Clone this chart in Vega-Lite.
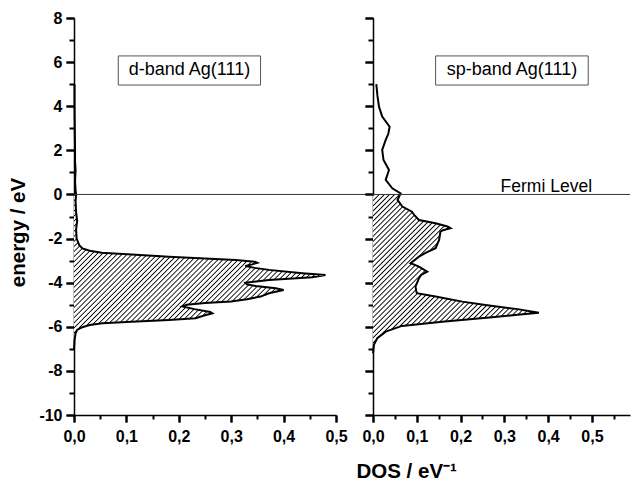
{
"$schema":"https://vega.github.io/schema/vega-lite/v6.json",
"background":"white",
"padding":{"left":8,"top":10,"right":0,"bottom":0},
"datasets":{
"dband":[
{"E":5.0,"v":0.001},{"E":4.0,"v":0.001},{"E":3.0,"v":0.0015},{"E":2.0,"v":0.002},{"E":1.5,"v":0.002},{"E":1.1,"v":0.003},{"E":0.6,"v":0.002},{"E":0.2,"v":0.003},{"E":0,"v":0.004},{"E":-0.3,"v":0.003},{"E":-0.8,"v":0.004},{"E":-1.2,"v":0.006},{"E":-1.6,"v":0.004},{"E":-2.0,"v":0.005},{"E":-2.3,"v":0.01},{"E":-2.45,"v":0.016},{"E":-2.55,"v":0.03},{"E":-2.64,"v":0.053},{"E":-2.72,"v":0.11},{"E":-2.82,"v":0.181},{"E":-2.9,"v":0.25},{"E":-2.97,"v":0.309},{"E":-3.05,"v":0.345},{"E":-3.1,"v":0.35},{"E":-3.17,"v":0.34},{"E":-3.24,"v":0.327},{"E":-3.33,"v":0.345},{"E":-3.42,"v":0.372},{"E":-3.57,"v":0.436},{"E":-3.65,"v":0.48},{"E":-3.75,"v":0.455},{"E":-3.88,"v":0.372},{"E":-4.0,"v":0.327},{"E":-4.08,"v":0.33},{"E":-4.15,"v":0.347},{"E":-4.25,"v":0.385},{"E":-4.33,"v":0.4},{"E":-4.48,"v":0.372},{"E":-4.63,"v":0.356},{"E":-4.75,"v":0.33},{"E":-4.85,"v":0.3},{"E":-4.92,"v":0.25},{"E":-5.0,"v":0.215},{"E":-5.08,"v":0.207},{"E":-5.2,"v":0.23},{"E":-5.33,"v":0.26},{"E":-5.39,"v":0.264},{"E":-5.48,"v":0.25},{"E":-5.61,"v":0.232},{"E":-5.69,"v":0.181},{"E":-5.77,"v":0.11},{"E":-5.84,"v":0.054},{"E":-5.92,"v":0.03},{"E":-6.02,"v":0.016},{"E":-6.14,"v":0.006},{"E":-6.3,"v":0.003},{"E":-6.6,"v":0.001},{"E":-7.0,"v":0}
],
"spband":[
{"E":5.0,"v":0.0076},{"E":4.5,"v":0.01},{"E":3.98,"v":0.0137},{"E":3.53,"v":0.021},{"E":3.07,"v":0.038},{"E":2.75,"v":0.035},{"E":2.47,"v":0.029},{"E":2.02,"v":0.021},{"E":1.56,"v":0.024},{"E":1.11,"v":0.0365},{"E":0.66,"v":0.029},{"E":0.28,"v":0.044},{"E":0.05,"v":0.063},{"E":0,"v":0.062},{"E":-0.25,"v":0.056},{"E":-0.55,"v":0.067},{"E":-0.78,"v":0.089},{"E":-0.93,"v":0.094},{"E":-1.16,"v":0.105},{"E":-1.31,"v":0.143},{"E":-1.45,"v":0.17},{"E":-1.53,"v":0.177},{"E":-1.62,"v":0.16},{"E":-1.69,"v":0.154},{"E":-2.06,"v":0.151},{"E":-2.44,"v":0.143},{"E":-2.65,"v":0.12},{"E":-2.82,"v":0.105},{"E":-3.12,"v":0.086},{"E":-3.27,"v":0.105},{"E":-3.5,"v":0.124},{"E":-3.65,"v":0.11},{"E":-3.8,"v":0.105},{"E":-4.18,"v":0.097},{"E":-4.48,"v":0.1},{"E":-4.63,"v":0.143},{"E":-4.86,"v":0.204},{"E":-5.01,"v":0.257},{"E":-5.2,"v":0.33},{"E":-5.36,"v":0.379},{"E":-5.45,"v":0.33},{"E":-5.57,"v":0.272},{"E":-5.77,"v":0.158},{"E":-5.96,"v":0.066},{"E":-6.22,"v":0.029},{"E":-6.52,"v":0.0098},{"E":-6.82,"v":0.002},{"E":-7.2,"v":0}
]
},
"config":{
"view":{"stroke":null},
"font":"Liberation Sans",
"axis":{"grid":false,"domainColor":"#000","domainWidth":1.5,"labelFont":"Liberation Sans","labelFontWeight":"bold","labelColor":"#000","labelFlush":false,"labelOverlap":false,"titleFont":"Liberation Sans","titleFontWeight":"bold","titleColor":"#000"}
},
"spacing":37,
"bounds":"flush",
"hconcat":[
{
"width":262,"height":397,
"resolve":{"axis":{"x":"independent","y":"independent"}},
"layer":[
{"data":{"name":"dband"},"transform":[{"filter":"datum.E <= 0"}],
"mark":{"type":"area","orient":"horizontal","stroke":null,"fill":{"gradient":"linear","x1":0,"y1":0,"x2":1.173,"y2":0.717,"stops":[
{"offset":0,"color":"#fff"},{"offset":0.003,"color":"#000"},{"offset":0.006,"color":"#fff"},
{"offset":0.0125,"color":"#fff"},{"offset":0.0155,"color":"#000"},{"offset":0.0185,"color":"#fff"},
{"offset":0.025,"color":"#fff"},{"offset":0.028,"color":"#000"},{"offset":0.031,"color":"#fff"},
{"offset":0.0375,"color":"#fff"},{"offset":0.0405,"color":"#000"},{"offset":0.0435,"color":"#fff"},
{"offset":0.05,"color":"#fff"},{"offset":0.053,"color":"#000"},{"offset":0.056,"color":"#fff"},
{"offset":0.0625,"color":"#fff"},{"offset":0.0655,"color":"#000"},{"offset":0.0685,"color":"#fff"},
{"offset":0.075,"color":"#fff"},{"offset":0.078,"color":"#000"},{"offset":0.081,"color":"#fff"},
{"offset":0.0875,"color":"#fff"},{"offset":0.0905,"color":"#000"},{"offset":0.0935,"color":"#fff"},
{"offset":0.1,"color":"#fff"},{"offset":0.103,"color":"#000"},{"offset":0.106,"color":"#fff"},
{"offset":0.1125,"color":"#fff"},{"offset":0.1155,"color":"#000"},{"offset":0.1185,"color":"#fff"},
{"offset":0.125,"color":"#fff"},{"offset":0.128,"color":"#000"},{"offset":0.131,"color":"#fff"},
{"offset":0.1375,"color":"#fff"},{"offset":0.1405,"color":"#000"},{"offset":0.1435,"color":"#fff"},
{"offset":0.15,"color":"#fff"},{"offset":0.153,"color":"#000"},{"offset":0.156,"color":"#fff"},
{"offset":0.1625,"color":"#fff"},{"offset":0.1655,"color":"#000"},{"offset":0.1685,"color":"#fff"},
{"offset":0.175,"color":"#fff"},{"offset":0.178,"color":"#000"},{"offset":0.181,"color":"#fff"},
{"offset":0.1875,"color":"#fff"},{"offset":0.1905,"color":"#000"},{"offset":0.1935,"color":"#fff"},
{"offset":0.2,"color":"#fff"},{"offset":0.203,"color":"#000"},{"offset":0.206,"color":"#fff"},
{"offset":0.2125,"color":"#fff"},{"offset":0.2155,"color":"#000"},{"offset":0.2185,"color":"#fff"},
{"offset":0.225,"color":"#fff"},{"offset":0.228,"color":"#000"},{"offset":0.231,"color":"#fff"},
{"offset":0.2375,"color":"#fff"},{"offset":0.2405,"color":"#000"},{"offset":0.2435,"color":"#fff"},
{"offset":0.25,"color":"#fff"},{"offset":0.253,"color":"#000"},{"offset":0.256,"color":"#fff"},
{"offset":0.2625,"color":"#fff"},{"offset":0.2655,"color":"#000"},{"offset":0.2685,"color":"#fff"},
{"offset":0.275,"color":"#fff"},{"offset":0.278,"color":"#000"},{"offset":0.281,"color":"#fff"},
{"offset":0.2875,"color":"#fff"},{"offset":0.2905,"color":"#000"},{"offset":0.2935,"color":"#fff"},
{"offset":0.3,"color":"#fff"},{"offset":0.303,"color":"#000"},{"offset":0.306,"color":"#fff"},
{"offset":0.3125,"color":"#fff"},{"offset":0.3155,"color":"#000"},{"offset":0.3185,"color":"#fff"},
{"offset":0.325,"color":"#fff"},{"offset":0.328,"color":"#000"},{"offset":0.331,"color":"#fff"},
{"offset":0.3375,"color":"#fff"},{"offset":0.3405,"color":"#000"},{"offset":0.3435,"color":"#fff"},
{"offset":0.35,"color":"#fff"},{"offset":0.353,"color":"#000"},{"offset":0.356,"color":"#fff"},
{"offset":0.3625,"color":"#fff"},{"offset":0.3655,"color":"#000"},{"offset":0.3685,"color":"#fff"},
{"offset":0.375,"color":"#fff"},{"offset":0.378,"color":"#000"},{"offset":0.381,"color":"#fff"},
{"offset":0.3875,"color":"#fff"},{"offset":0.3905,"color":"#000"},{"offset":0.3935,"color":"#fff"},
{"offset":0.4,"color":"#fff"},{"offset":0.403,"color":"#000"},{"offset":0.406,"color":"#fff"},
{"offset":0.4125,"color":"#fff"},{"offset":0.4155,"color":"#000"},{"offset":0.4185,"color":"#fff"},
{"offset":0.425,"color":"#fff"},{"offset":0.428,"color":"#000"},{"offset":0.431,"color":"#fff"},
{"offset":0.4375,"color":"#fff"},{"offset":0.4405,"color":"#000"},{"offset":0.4435,"color":"#fff"},
{"offset":0.45,"color":"#fff"},{"offset":0.453,"color":"#000"},{"offset":0.456,"color":"#fff"},
{"offset":0.4625,"color":"#fff"},{"offset":0.4655,"color":"#000"},{"offset":0.4685,"color":"#fff"},
{"offset":0.475,"color":"#fff"},{"offset":0.478,"color":"#000"},{"offset":0.481,"color":"#fff"},
{"offset":0.4875,"color":"#fff"},{"offset":0.4905,"color":"#000"},{"offset":0.4935,"color":"#fff"},
{"offset":0.5,"color":"#fff"},{"offset":0.503,"color":"#000"},{"offset":0.506,"color":"#fff"},
{"offset":0.5125,"color":"#fff"},{"offset":0.5155,"color":"#000"},{"offset":0.5185,"color":"#fff"},
{"offset":0.525,"color":"#fff"},{"offset":0.528,"color":"#000"},{"offset":0.531,"color":"#fff"},
{"offset":0.5375,"color":"#fff"},{"offset":0.5405,"color":"#000"},{"offset":0.5435,"color":"#fff"},
{"offset":0.55,"color":"#fff"},{"offset":0.553,"color":"#000"},{"offset":0.556,"color":"#fff"},
{"offset":0.5625,"color":"#fff"},{"offset":0.5655,"color":"#000"},{"offset":0.5685,"color":"#fff"},
{"offset":0.575,"color":"#fff"},{"offset":0.578,"color":"#000"},{"offset":0.581,"color":"#fff"},
{"offset":0.5875,"color":"#fff"},{"offset":0.5905,"color":"#000"},{"offset":0.5935,"color":"#fff"},
{"offset":0.6,"color":"#fff"},{"offset":0.603,"color":"#000"},{"offset":0.606,"color":"#fff"},
{"offset":0.6125,"color":"#fff"},{"offset":0.6155,"color":"#000"},{"offset":0.6185,"color":"#fff"},
{"offset":0.625,"color":"#fff"},{"offset":0.628,"color":"#000"},{"offset":0.631,"color":"#fff"},
{"offset":0.6375,"color":"#fff"},{"offset":0.6405,"color":"#000"},{"offset":0.6435,"color":"#fff"},
{"offset":0.65,"color":"#fff"},{"offset":0.653,"color":"#000"},{"offset":0.656,"color":"#fff"},
{"offset":0.6625,"color":"#fff"},{"offset":0.6655,"color":"#000"},{"offset":0.6685,"color":"#fff"},
{"offset":0.675,"color":"#fff"},{"offset":0.678,"color":"#000"},{"offset":0.681,"color":"#fff"},
{"offset":0.6875,"color":"#fff"},{"offset":0.6905,"color":"#000"},{"offset":0.6935,"color":"#fff"},
{"offset":0.7,"color":"#fff"},{"offset":0.703,"color":"#000"},{"offset":0.706,"color":"#fff"},
{"offset":0.7125,"color":"#fff"},{"offset":0.7155,"color":"#000"},{"offset":0.7185,"color":"#fff"},
{"offset":0.725,"color":"#fff"},{"offset":0.728,"color":"#000"},{"offset":0.731,"color":"#fff"},
{"offset":0.7375,"color":"#fff"},{"offset":0.7405,"color":"#000"},{"offset":0.7435,"color":"#fff"},
{"offset":0.75,"color":"#fff"},{"offset":0.753,"color":"#000"},{"offset":0.756,"color":"#fff"},
{"offset":0.7625,"color":"#fff"},{"offset":0.7655,"color":"#000"},{"offset":0.7685,"color":"#fff"},
{"offset":0.775,"color":"#fff"},{"offset":0.778,"color":"#000"},{"offset":0.781,"color":"#fff"},
{"offset":0.7875,"color":"#fff"},{"offset":0.7905,"color":"#000"},{"offset":0.7935,"color":"#fff"},
{"offset":0.8,"color":"#fff"},{"offset":0.803,"color":"#000"},{"offset":0.806,"color":"#fff"},
{"offset":0.8125,"color":"#fff"},{"offset":0.8155,"color":"#000"},{"offset":0.8185,"color":"#fff"},
{"offset":0.825,"color":"#fff"},{"offset":0.828,"color":"#000"},{"offset":0.831,"color":"#fff"},
{"offset":0.8375,"color":"#fff"},{"offset":0.8405,"color":"#000"},{"offset":0.8435,"color":"#fff"},
{"offset":0.85,"color":"#fff"},{"offset":0.853,"color":"#000"},{"offset":0.856,"color":"#fff"},
{"offset":0.8625,"color":"#fff"},{"offset":0.8655,"color":"#000"},{"offset":0.8685,"color":"#fff"},
{"offset":0.875,"color":"#fff"},{"offset":0.878,"color":"#000"},{"offset":0.881,"color":"#fff"},
{"offset":0.8875,"color":"#fff"},{"offset":0.8905,"color":"#000"},{"offset":0.8935,"color":"#fff"},
{"offset":0.9,"color":"#fff"},{"offset":0.903,"color":"#000"},{"offset":0.906,"color":"#fff"},
{"offset":0.9125,"color":"#fff"},{"offset":0.9155,"color":"#000"},{"offset":0.9185,"color":"#fff"},
{"offset":0.925,"color":"#fff"},{"offset":0.928,"color":"#000"},{"offset":0.931,"color":"#fff"},
{"offset":0.9375,"color":"#fff"},{"offset":0.9405,"color":"#000"},{"offset":0.9435,"color":"#fff"},
{"offset":0.95,"color":"#fff"},{"offset":0.953,"color":"#000"},{"offset":0.956,"color":"#fff"},
{"offset":0.9625,"color":"#fff"},{"offset":0.9655,"color":"#000"},{"offset":0.9685,"color":"#fff"},
{"offset":0.975,"color":"#fff"},{"offset":0.978,"color":"#000"},{"offset":0.981,"color":"#fff"},
{"offset":0.9875,"color":"#fff"},{"offset":0.9905,"color":"#000"},{"offset":0.9935,"color":"#fff"},
{"offset":1,"color":"#fff"}]}},
"encoding":{
"x":{"field":"v","type":"quantitative","stack":null,"scale":{"domain":[0,0.5],"nice":false,"zero":true},
"axis":{"orient":"bottom","title":null,"values":[0,0.1,0.2,0.3,0.4,0.5],"tickColor":"#000","tickWidth":2,"tickSize":7,"labelPadding":6,"labelFontSize":16,
"labelExpr":"replace(format(datum.value, '.1f'), '.', ',')"}},
"y":{"field":"E","type":"quantitative","scale":{"domain":[-10,8],"nice":false,"zero":false},
"axis":{"orient":"left","title":"energy / eV","titleFontSize":20.5,"titlePadding":10,"titleY":214,"values":[-10,-8,-6,-4,-2,0,2,4,6,8],"tickColor":"#000","tickWidth":2,"tickSize":8,"labelPadding":4,"labelFontSize":16,
"labelExpr":"'' + datum.value"}}
}},
{"data":{"name":"dband"},"mark":{"type":"line","stroke":"#000","strokeWidth":2},
"encoding":{
"x":{"field":"v","type":"quantitative","axis":{"orient":"bottom","title":null,"labels":false,"domain":false,"tickColor":"#000","tickWidth":2,"tickSize":4,"values":[0.05,0.15,0.25,0.35,0.45]}},
"y":{"field":"E","type":"quantitative","axis":{"orient":"left","title":null,"labels":false,"domain":false,"tickColor":"#000","tickWidth":2,"tickSize":5,"values":[-9,-7,-5,-3,-1,1,3,5,7]}},
"order":{"field":"E","type":"quantitative"}}},
{"data":{"values":[{}]},"mark":{"type":"rule","stroke":"#333","strokeWidth":1},
"encoding":{
"y":{"datum":0,"axis":{"orient":"left","title":null,"labels":false,"domain":false,"tickColor":"#000","tickWidth":2,"tickSize":8,"values":[-10,-8,-6,-4,-2,0,2,4,6,8]}},
"x":{"datum":0,"axis":{"orient":"bottom","title":null,"labels":false,"domain":false,"tickColor":"#000","tickWidth":2,"tickSize":7,"values":[0,0.1,0.2,0.3,0.4,0.5]}},
"x2":{"datum":0.5706}}},
{"data":{"values":[{}]},"mark":{"type":"rect","fill":"#fff","stroke":"#555","strokeWidth":1},
"encoding":{"x":{"datum":0.0845,"axis":null},"x2":{"datum":0.356},"y":{"datum":6.28,"axis":null},"y2":{"datum":4.96}}},
{"data":{"values":[{}]},"mark":{"type":"text","text":"d-band Ag(111)","fontSize":18,"font":"Liberation Sans","align":"center","baseline":"middle","color":"#000"},
"encoding":{"x":{"datum":0.2204,"axis":null},"y":{"datum":5.62,"axis":null}}}
]
},
{
"width":257,"height":397,
"resolve":{"axis":{"x":"independent","y":"independent"}},
"layer":[
{"data":{"name":"spband"},"transform":[{"filter":"datum.E <= 0"}],
"mark":{"type":"area","orient":"horizontal","stroke":null,"fill":{"gradient":"linear","x1":0,"y1":0,"x2":1.0217,"y2":0.9774,"stops":[
{"offset":0,"color":"#fff"},{"offset":0.004,"color":"#000"},{"offset":0.008,"color":"#fff"},
{"offset":0.0156,"color":"#fff"},{"offset":0.0196,"color":"#000"},{"offset":0.0236,"color":"#fff"},
{"offset":0.0313,"color":"#fff"},{"offset":0.0353,"color":"#000"},{"offset":0.0393,"color":"#fff"},
{"offset":0.0469,"color":"#fff"},{"offset":0.0509,"color":"#000"},{"offset":0.0549,"color":"#fff"},
{"offset":0.0625,"color":"#fff"},{"offset":0.0665,"color":"#000"},{"offset":0.0705,"color":"#fff"},
{"offset":0.0781,"color":"#fff"},{"offset":0.0821,"color":"#000"},{"offset":0.0861,"color":"#fff"},
{"offset":0.0938,"color":"#fff"},{"offset":0.0978,"color":"#000"},{"offset":0.1018,"color":"#fff"},
{"offset":0.1094,"color":"#fff"},{"offset":0.1134,"color":"#000"},{"offset":0.1174,"color":"#fff"},
{"offset":0.125,"color":"#fff"},{"offset":0.129,"color":"#000"},{"offset":0.133,"color":"#fff"},
{"offset":0.1406,"color":"#fff"},{"offset":0.1446,"color":"#000"},{"offset":0.1486,"color":"#fff"},
{"offset":0.1563,"color":"#fff"},{"offset":0.1603,"color":"#000"},{"offset":0.1643,"color":"#fff"},
{"offset":0.1719,"color":"#fff"},{"offset":0.1759,"color":"#000"},{"offset":0.1799,"color":"#fff"},
{"offset":0.1875,"color":"#fff"},{"offset":0.1915,"color":"#000"},{"offset":0.1955,"color":"#fff"},
{"offset":0.2031,"color":"#fff"},{"offset":0.2071,"color":"#000"},{"offset":0.2111,"color":"#fff"},
{"offset":0.2188,"color":"#fff"},{"offset":0.2228,"color":"#000"},{"offset":0.2268,"color":"#fff"},
{"offset":0.2344,"color":"#fff"},{"offset":0.2384,"color":"#000"},{"offset":0.2424,"color":"#fff"},
{"offset":0.25,"color":"#fff"},{"offset":0.254,"color":"#000"},{"offset":0.258,"color":"#fff"},
{"offset":0.2656,"color":"#fff"},{"offset":0.2696,"color":"#000"},{"offset":0.2736,"color":"#fff"},
{"offset":0.2813,"color":"#fff"},{"offset":0.2853,"color":"#000"},{"offset":0.2893,"color":"#fff"},
{"offset":0.2969,"color":"#fff"},{"offset":0.3009,"color":"#000"},{"offset":0.3049,"color":"#fff"},
{"offset":0.3125,"color":"#fff"},{"offset":0.3165,"color":"#000"},{"offset":0.3205,"color":"#fff"},
{"offset":0.3281,"color":"#fff"},{"offset":0.3321,"color":"#000"},{"offset":0.3361,"color":"#fff"},
{"offset":0.3438,"color":"#fff"},{"offset":0.3478,"color":"#000"},{"offset":0.3518,"color":"#fff"},
{"offset":0.3594,"color":"#fff"},{"offset":0.3634,"color":"#000"},{"offset":0.3674,"color":"#fff"},
{"offset":0.375,"color":"#fff"},{"offset":0.379,"color":"#000"},{"offset":0.383,"color":"#fff"},
{"offset":0.3906,"color":"#fff"},{"offset":0.3946,"color":"#000"},{"offset":0.3986,"color":"#fff"},
{"offset":0.4063,"color":"#fff"},{"offset":0.4103,"color":"#000"},{"offset":0.4143,"color":"#fff"},
{"offset":0.4219,"color":"#fff"},{"offset":0.4259,"color":"#000"},{"offset":0.4299,"color":"#fff"},
{"offset":0.4375,"color":"#fff"},{"offset":0.4415,"color":"#000"},{"offset":0.4455,"color":"#fff"},
{"offset":0.4531,"color":"#fff"},{"offset":0.4571,"color":"#000"},{"offset":0.4611,"color":"#fff"},
{"offset":0.4688,"color":"#fff"},{"offset":0.4728,"color":"#000"},{"offset":0.4768,"color":"#fff"},
{"offset":0.4844,"color":"#fff"},{"offset":0.4884,"color":"#000"},{"offset":0.4924,"color":"#fff"},
{"offset":0.5,"color":"#fff"},{"offset":0.504,"color":"#000"},{"offset":0.508,"color":"#fff"},
{"offset":0.5156,"color":"#fff"},{"offset":0.5196,"color":"#000"},{"offset":0.5236,"color":"#fff"},
{"offset":0.5313,"color":"#fff"},{"offset":0.5353,"color":"#000"},{"offset":0.5393,"color":"#fff"},
{"offset":0.5469,"color":"#fff"},{"offset":0.5509,"color":"#000"},{"offset":0.5549,"color":"#fff"},
{"offset":0.5625,"color":"#fff"},{"offset":0.5665,"color":"#000"},{"offset":0.5705,"color":"#fff"},
{"offset":0.5781,"color":"#fff"},{"offset":0.5821,"color":"#000"},{"offset":0.5861,"color":"#fff"},
{"offset":0.5938,"color":"#fff"},{"offset":0.5978,"color":"#000"},{"offset":0.6018,"color":"#fff"},
{"offset":0.6094,"color":"#fff"},{"offset":0.6134,"color":"#000"},{"offset":0.6174,"color":"#fff"},
{"offset":0.625,"color":"#fff"},{"offset":0.629,"color":"#000"},{"offset":0.633,"color":"#fff"},
{"offset":0.6406,"color":"#fff"},{"offset":0.6446,"color":"#000"},{"offset":0.6486,"color":"#fff"},
{"offset":0.6563,"color":"#fff"},{"offset":0.6603,"color":"#000"},{"offset":0.6643,"color":"#fff"},
{"offset":0.6719,"color":"#fff"},{"offset":0.6759,"color":"#000"},{"offset":0.6799,"color":"#fff"},
{"offset":0.6875,"color":"#fff"},{"offset":0.6915,"color":"#000"},{"offset":0.6955,"color":"#fff"},
{"offset":0.7031,"color":"#fff"},{"offset":0.7071,"color":"#000"},{"offset":0.7111,"color":"#fff"},
{"offset":0.7188,"color":"#fff"},{"offset":0.7228,"color":"#000"},{"offset":0.7268,"color":"#fff"},
{"offset":0.7344,"color":"#fff"},{"offset":0.7384,"color":"#000"},{"offset":0.7424,"color":"#fff"},
{"offset":0.75,"color":"#fff"},{"offset":0.754,"color":"#000"},{"offset":0.758,"color":"#fff"},
{"offset":0.7656,"color":"#fff"},{"offset":0.7696,"color":"#000"},{"offset":0.7736,"color":"#fff"},
{"offset":0.7813,"color":"#fff"},{"offset":0.7853,"color":"#000"},{"offset":0.7893,"color":"#fff"},
{"offset":0.7969,"color":"#fff"},{"offset":0.8009,"color":"#000"},{"offset":0.8049,"color":"#fff"},
{"offset":0.8125,"color":"#fff"},{"offset":0.8165,"color":"#000"},{"offset":0.8205,"color":"#fff"},
{"offset":0.8281,"color":"#fff"},{"offset":0.8321,"color":"#000"},{"offset":0.8361,"color":"#fff"},
{"offset":0.8438,"color":"#fff"},{"offset":0.8478,"color":"#000"},{"offset":0.8518,"color":"#fff"},
{"offset":0.8594,"color":"#fff"},{"offset":0.8634,"color":"#000"},{"offset":0.8674,"color":"#fff"},
{"offset":0.875,"color":"#fff"},{"offset":0.879,"color":"#000"},{"offset":0.883,"color":"#fff"},
{"offset":0.8906,"color":"#fff"},{"offset":0.8946,"color":"#000"},{"offset":0.8986,"color":"#fff"},
{"offset":0.9063,"color":"#fff"},{"offset":0.9103,"color":"#000"},{"offset":0.9143,"color":"#fff"},
{"offset":0.9219,"color":"#fff"},{"offset":0.9259,"color":"#000"},{"offset":0.9299,"color":"#fff"},
{"offset":0.9375,"color":"#fff"},{"offset":0.9415,"color":"#000"},{"offset":0.9455,"color":"#fff"},
{"offset":0.9531,"color":"#fff"},{"offset":0.9571,"color":"#000"},{"offset":0.9611,"color":"#fff"},
{"offset":0.9688,"color":"#fff"},{"offset":0.9728,"color":"#000"},{"offset":0.9768,"color":"#fff"},
{"offset":0.9844,"color":"#fff"},{"offset":0.9884,"color":"#000"},{"offset":0.9924,"color":"#fff"},
{"offset":1,"color":"#fff"}]}},
"encoding":{
"x":{"field":"v","type":"quantitative","stack":null,"scale":{"domain":[0,0.587],"nice":false,"zero":true},
"axis":{"orient":"bottom","title":"DOS / eV⁻¹","titleFontSize":20.5,"titlePadding":17,"titleAlign":"left","titleX":-17,"values":[0,0.1,0.2,0.3,0.4,0.5],"tickColor":"#000","tickWidth":2,"tickSize":7,"labelPadding":6,"labelFontSize":16,
"labelExpr":"replace(format(datum.value, '.1f'), '.', ',')"}},
"y":{"field":"E","type":"quantitative","scale":{"domain":[-10,8],"nice":false,"zero":false},
"axis":{"orient":"left","title":null,"labels":false,"tickColor":"#000","tickWidth":2,"tickSize":8,"values":[-10,-8,-6,-4,-2,0,2,4,6,8]}}
}},
{"data":{"name":"spband"},"mark":{"type":"line","stroke":"#000","strokeWidth":2},
"encoding":{
"x":{"field":"v","type":"quantitative","axis":{"orient":"bottom","title":null,"labels":false,"domain":false,"tickColor":"#000","tickWidth":2,"tickSize":4,"values":[0.05,0.15,0.25,0.35,0.45,0.55]}},
"y":{"field":"E","type":"quantitative","axis":{"orient":"left","title":null,"labels":false,"domain":false,"tickColor":"#000","tickWidth":2,"tickSize":5,"values":[-9,-7,-5,-3,-1,1,3,5,7]}},
"order":{"field":"E","type":"quantitative"}}},
{"data":{"values":[{}]},"mark":{"type":"rule","stroke":"#333","strokeWidth":1},
"encoding":{
"y":{"datum":0,"axis":{"orient":"left","title":null,"labels":false,"domain":false,"tickColor":"#000","tickWidth":2,"tickSize":8,"values":[-10,-8,-6,-4,-2,0,2,4,6,8]}},
"x":{"datum":0,"axis":{"orient":"bottom","title":null,"labels":false,"domain":false,"tickColor":"#000","tickWidth":2,"tickSize":7,"values":[0,0.1,0.2,0.3,0.4,0.5]}},
"x2":{"datum":0.587}}},
{"data":{"values":[{}]},"mark":{"type":"rect","fill":"#fff","stroke":"#555","strokeWidth":1},
"encoding":{"x":{"datum":0.143,"axis":null},"x2":{"datum":0.4916},"y":{"datum":6.28,"axis":null},"y2":{"datum":4.96}}},
{"data":{"values":[{}]},"mark":{"type":"text","text":"sp-band Ag(111)","fontSize":18,"font":"Liberation Sans","align":"center","baseline":"middle","color":"#000"},
"encoding":{"x":{"datum":0.3174,"axis":null},"y":{"datum":5.62,"axis":null}}},
{"data":{"values":[{}]},"mark":{"type":"text","text":"Fermi Level","fontSize":17.5,"font":"Liberation Sans","align":"left","baseline":"alphabetic","dy":-2,"color":"#000"},
"encoding":{"x":{"datum":0.2915,"axis":null},"y":{"datum":0,"axis":null}}}
]
}
]
}
